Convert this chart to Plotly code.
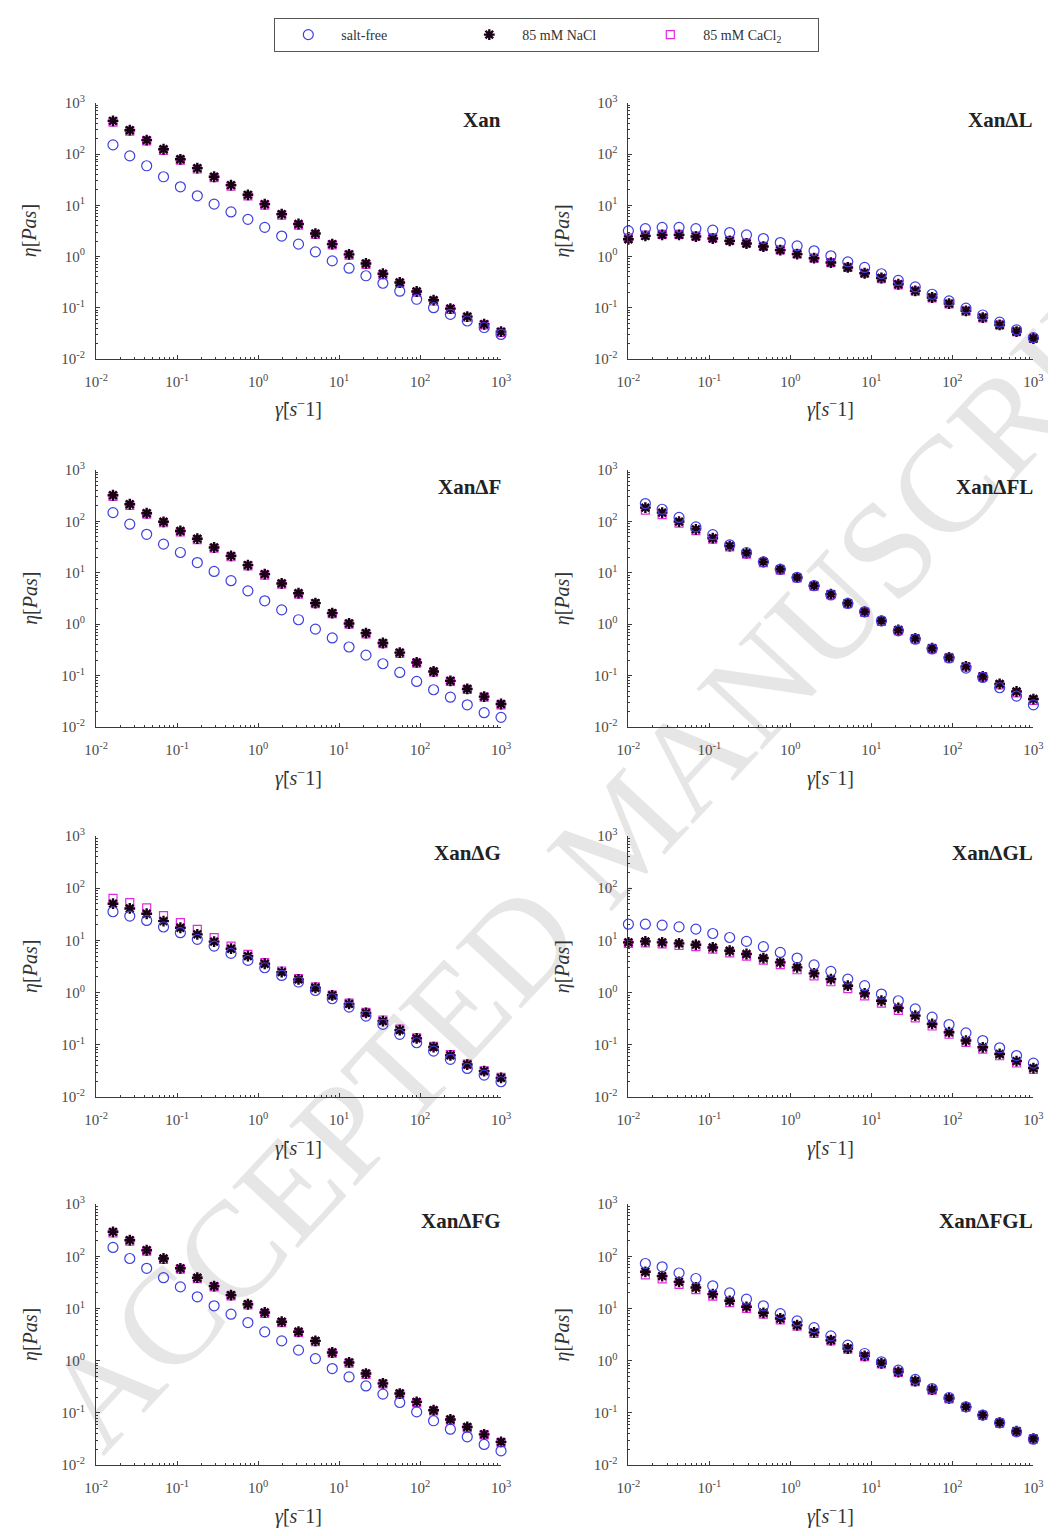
import plotly.graph_objects as go

# ---------------- data ----------------
shear_rate = [0.01, 0.0162, 0.0261, 0.0422, 0.0681, 0.110, 0.178, 0.287, 0.464, 0.750,
              1.21, 1.96, 3.16, 5.11, 8.25, 13.3, 21.5, 34.8, 56.2, 90.9,
              147, 237, 383, 619, 1000]

panel_names = ["Xan", "XanΔL", "XanΔF", "XanΔFL", "XanΔG", "XanΔGL", "XanΔFG", "XanΔFGL"]
series_names = ["salt-free", "85 mM NaCl", "85 mM CaCl<sub>2</sub>"]
tick_exponents = [-2, -1, 0, 1, 2, 3]

xan_salt = [151, 92, 59, 36, 22.9, 15.3, 10.5, 7.4, 5.3, 3.7, 2.5, 1.74, 1.23, 0.82, 0.59, 0.42, 0.30, 0.21, 0.146, 0.10, 0.074, 0.055, 0.041, 0.030]
xan_nacl = [445, 292, 187, 124, 79, 53, 36, 24.7, 16, 10.5, 6.7, 4.3, 2.8, 1.74, 1.1, 0.73, 0.46, 0.31, 0.207, 0.14, 0.096, 0.067, 0.0475, 0.034]
xan_cacl = [420, 280, 180, 118, 76, 51, 34.5, 23.5, 15.3, 10.1, 6.4, 4.1, 2.7, 1.68, 1.06, 0.70, 0.44, 0.30, 0.20, 0.135, 0.093, 0.065, 0.046, 0.033]

dl_salt = [3.16, 3.5, 3.7, 3.7, 3.5, 3.26, 2.93, 2.64, 2.24, 1.87, 1.61, 1.29, 1.03, 0.785, 0.61, 0.46, 0.34, 0.255, 0.183, 0.136, 0.098, 0.072, 0.052, 0.037, 0.026]
dl_nacl = [2.17, 2.52, 2.64, 2.64, 2.45, 2.24, 2.02, 1.79, 1.56, 1.33, 1.11, 0.925, 0.76, 0.61, 0.47, 0.38, 0.287, 0.213, 0.158, 0.12, 0.087, 0.064, 0.046, 0.034, 0.025]
dl_cacl = [2.3, 2.6, 2.7, 2.7, 2.5, 2.3, 2.05, 1.82, 1.58, 1.35, 1.12, 0.93, 0.76, 0.61, 0.47, 0.37, 0.28, 0.21, 0.155, 0.118, 0.086, 0.063, 0.046, 0.034, 0.025]

df_salt = [148, 88, 56, 36, 24.8, 15.8, 10.6, 7.0, 4.45, 2.85, 1.9, 1.22, 0.80, 0.54, 0.36, 0.25, 0.17, 0.115, 0.077, 0.053, 0.038, 0.027, 0.019, 0.0154]
df_nacl = [322, 215, 144, 98, 65, 46, 31, 21.3, 14.1, 9.4, 6.2, 4.0, 2.57, 1.64, 1.03, 0.67, 0.43, 0.28, 0.18, 0.12, 0.079, 0.055, 0.039, 0.028]
df_cacl = [305, 205, 138, 94, 62, 44, 30, 20.5, 13.6, 9.0, 6.0, 3.85, 2.5, 1.6, 1.0, 0.65, 0.42, 0.27, 0.175, 0.117, 0.077, 0.054, 0.038, 0.027]

dfl_salt = [222, 172, 119, 78, 55, 35, 24.8, 16.3, 11.7, 8.1, 5.6, 3.7, 2.53, 1.74, 1.16, 0.74, 0.51, 0.33, 0.22, 0.14, 0.092, 0.058, 0.040, 0.027]
dfl_nacl = [185, 148, 99, 70, 47, 33, 24, 16.3, 11.7, 8.1, 5.6, 3.84, 2.56, 1.74, 1.16, 0.77, 0.53, 0.34, 0.226, 0.151, 0.096, 0.069, 0.049, 0.035]
dfl_cacl = [165, 135, 92, 66, 45, 32, 23, 15.8, 11.3, 7.9, 5.5, 3.75, 2.5, 1.7, 1.13, 0.75, 0.52, 0.335, 0.22, 0.147, 0.094, 0.066, 0.046, 0.033]

dg_salt = [35.5, 29.3, 24.2, 18.1, 14.1, 10.5, 7.8, 5.65, 4.15, 3.0, 2.14, 1.6, 1.1, 0.765, 0.53, 0.356, 0.247, 0.159, 0.11, 0.076, 0.053, 0.0354, 0.0264, 0.0197]
dg_nacl = [50.6, 41, 32.5, 23.5, 17.5, 13.1, 9.5, 6.95, 5.0, 3.58, 2.48, 1.8, 1.24, 0.89, 0.61, 0.41, 0.286, 0.192, 0.133, 0.091, 0.063, 0.042, 0.0315, 0.0234]
dg_cacl = [64, 53, 42, 30, 21.9, 16.3, 11.3, 7.8, 5.4, 3.75, 2.6, 1.85, 1.29, 0.9, 0.63, 0.42, 0.3, 0.2, 0.137, 0.094, 0.065, 0.043, 0.032, 0.024]

dgl_salt = [20.5, 20.5, 19.6, 18.2, 16.5, 13.6, 11.4, 9.6, 7.6, 5.9, 4.6, 3.4, 2.56, 1.82, 1.36, 0.94, 0.70, 0.49, 0.34, 0.245, 0.17, 0.121, 0.088, 0.0625, 0.0447]
dgl_nacl = [9.2, 9.6, 9.2, 8.8, 8.3, 7.35, 6.35, 5.5, 4.6, 3.8, 3.05, 2.34, 1.82, 1.36, 0.97, 0.70, 0.51, 0.364, 0.252, 0.175, 0.121, 0.09, 0.067, 0.049, 0.036]
dgl_cacl = [8.8, 9.0, 8.6, 8.0, 7.6, 6.8, 5.8, 5.0, 4.2, 3.45, 2.75, 2.1, 1.62, 1.2, 0.87, 0.63, 0.46, 0.33, 0.23, 0.16, 0.112, 0.083, 0.062, 0.045, 0.034]

dfg_salt = [148, 91, 59, 39, 26, 16.8, 11.3, 7.8, 5.4, 3.58, 2.41, 1.6, 1.1, 0.71, 0.49, 0.33, 0.23, 0.159, 0.105, 0.071, 0.049, 0.035, 0.025, 0.0188]
dfg_nacl = [295, 204, 131, 91, 59, 39, 26.9, 18.1, 12.1, 8.4, 5.6, 3.6, 2.41, 1.44, 0.93, 0.57, 0.37, 0.236, 0.163, 0.113, 0.075, 0.054, 0.039, 0.028]
dfg_cacl = [280, 195, 126, 87, 57, 37.5, 26, 17.5, 11.7, 8.1, 5.4, 3.5, 2.33, 1.4, 0.9, 0.55, 0.36, 0.23, 0.158, 0.11, 0.073, 0.052, 0.038, 0.027]

dfgl_salt = [73, 63, 48, 37.7, 27.3, 20, 15.1, 11.3, 8.0, 5.8, 4.3, 3.0, 1.99, 1.38, 0.955, 0.66, 0.44, 0.294, 0.198, 0.131, 0.091, 0.065, 0.0435, 0.0315]
dfgl_nacl = [50.6, 41.8, 32.5, 25.3, 18.9, 14.1, 10.8, 8.3, 6.45, 4.8, 3.5, 2.48, 1.72, 1.24, 0.89, 0.61, 0.41, 0.28, 0.19, 0.131, 0.091, 0.065, 0.0448, 0.0324]
dfgl_cacl = [44, 37, 29, 23, 17.3, 13, 10.1, 7.8, 6.1, 4.6, 3.35, 2.4, 1.67, 1.2, 0.87, 0.6, 0.4, 0.275, 0.187, 0.129, 0.09, 0.064, 0.044, 0.032]

panel_series = [
    (xan_salt, xan_nacl, xan_cacl),
    (dl_salt, dl_nacl, dl_cacl),
    (df_salt, df_nacl, df_cacl),
    (dfl_salt, dfl_nacl, dfl_cacl),
    (dg_salt, dg_nacl, dg_cacl),
    (dgl_salt, dgl_nacl, dgl_cacl),
    (dfg_salt, dfg_nacl, dfg_cacl),
    (dfgl_salt, dfgl_nacl, dfgl_cacl),
]

# ---------------- layout helpers ----------------
W, H = 1056, 1536
# compensation for the observed page offset/scale of the photographed figure
AX, BX = 16.6, 0.984
AY, BY = 17.2, 0.988

def pxx(p):
    return ((p - AX) / BX) / W

def pxy(p):
    return 1 - ((p - AY) / BY) / H

col_px = [(93, 500), (628, 1035)]
row_px = [(102, 358), (469, 726), (835, 1096), (1203, 1464)]

SERIF = "Liberation Serif"
AXIS_COLOR = "#3a3a3a"
TICK_FONT = dict(family=SERIF, size=15, color="#4a4a4a")

tickvals = [10.0 ** e for e in tick_exponents]
ticktext = ["10<sup>%d</sup>" % e for e in tick_exponents]
minorvals = [m * 10.0 ** e for e in tick_exponents[:-1] for m in range(2, 10)]

styles = [
    dict(symbol="circle-open", size=10, color="#3f3fe0", line=dict(width=1.2, color="#3f3fe0")),
    dict(symbol="asterisk-open", size=9, color="#1a0014", line=dict(width=2.4, color="#1a0014")),
    dict(symbol="square-open", size=8, color="#e02ae0", line=dict(width=1.2, color="#e02ae0")),
]
draw_order = [2, 1, 0]
ranks = [1, 2, 3]

fig = go.Figure()
layout = dict(
    width=W, height=H,
    margin=dict(l=0, r=0, t=0, b=0),
    paper_bgcolor="white", plot_bgcolor="white",
    showlegend=True,
    font=dict(family=SERIF, color="#333"),
)
annotations = []

for i, name in enumerate(panel_names):
    r, c = divmod(i, 2)
    ax = i + 1
    xa = "xaxis" if ax == 1 else "xaxis%d" % ax
    ya = "yaxis" if ax == 1 else "yaxis%d" % ax
    xref = "x" if ax == 1 else "x%d" % ax
    yref = "y" if ax == 1 else "y%d" % ax
    x0p, x1p = col_px[c]
    y0p, y1p = row_px[r]
    common = dict(
        type="log", range=[-2, 3], showgrid=False, zeroline=False,
        showline=True, linecolor=AXIS_COLOR, linewidth=1,
        ticks="inside", ticklen=4, tickcolor=AXIS_COLOR,
        tickmode="array", tickvals=tickvals, ticktext=ticktext,
        tickfont=TICK_FONT,
        minor=dict(tickmode="array", tickvals=minorvals, ticks="inside",
                   ticklen=2, tickcolor=AXIS_COLOR, showgrid=False),
        fixedrange=True,
    )
    layout[xa] = dict(common, domain=[pxx(x0p), pxx(x1p)], anchor=yref,
                      ticklabelstandoff=9)
    layout[ya] = dict(common, domain=[pxy(y1p), pxy(y0p)], anchor=xref,
                      ticklabelstandoff=7)

    series = panel_series[i]
    for k in draw_order:
        yvals = series[k]
        xvals = shear_rate[len(shear_rate) - len(yvals):]
        fig.add_trace(go.Scatter(
            x=xvals, y=yvals, mode="markers", name=series_names[k],
            marker=styles[k], xaxis=xref, yaxis=yref, cliponaxis=False,
            showlegend=(i == 0), legendrank=ranks[k], hoverinfo="skip",
        ))

    # panel label
    annotations.append(dict(
        text="<b>%s</b>" % name, xref="paper", yref="paper",
        x=pxx(x1p + 2), y=pxy(y0p + 17), xanchor="right", yanchor="middle",
        showarrow=False, font=dict(family=SERIF, size=21, color="#222"),
    ))
    # axis titles
    annotations.append(dict(
        text="<i>η</i>[<i>Pas</i>]", xref="paper", yref="paper",
        x=pxx(x0p - 66), y=pxy((y0p + y1p) / 2), xanchor="center", yanchor="middle",
        textangle=-90, showarrow=False, font=dict(family=SERIF, size=20, color="#333"),
    ))
    annotations.append(dict(
        text="<i>γ̇</i>[<i>s</i><sup>−</sup>1]", xref="paper", yref="paper",
        x=pxx((x0p + x1p) / 2), y=pxy(y1p + 50), xanchor="center", yanchor="middle",
        showarrow=False, font=dict(family=SERIF, size=20, color="#333"),
    ))

layout["annotations"] = annotations
layout["legend"] = dict(
    orientation="h", x=pxx(546), xanchor="center", y=min(pxy(12), 1.0), yanchor="top",
    bordercolor="#555", borderwidth=1, bgcolor="white",
    font=dict(family=SERIF, size=14, color="#333"),
    itemwidth=56, entrywidth=110, entrywidthmode="pixels", traceorder="normal",
)

# watermark (below data)
cx, cy = 612, 820
layout["shapes"] = [
    dict(
        type="line", xref="paper", yref="paper",
        x0=pxx(cx - 200), y0=pxy(cy + 210), x1=pxx(cx + 200), y1=pxy(cy - 210),
        line=dict(color="rgba(0,0,0,0)", width=1), layer="below",
        label=dict(text="ACCEPTED MANUSCRIPT", textangle=-47, textposition="middle",
                   xanchor="center", yanchor="middle",
                   font=dict(family=SERIF, size=137, color="#e6e6e6")),
    ),
]

fig.update_layout(**layout)
fig.write_html("out.html")
